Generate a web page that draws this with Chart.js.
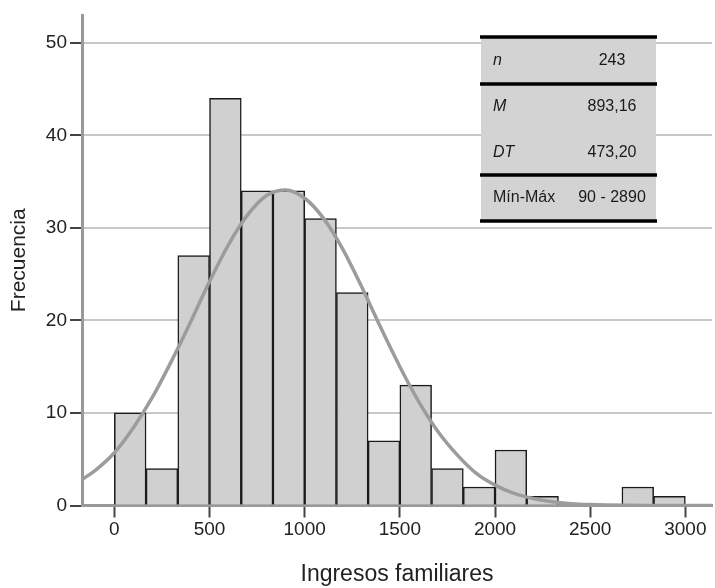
<!DOCTYPE html>
<html>
<head>
<meta charset="utf-8">
<script src="https://cdn.jsdelivr.net/npm/chart.js@4.4.1/dist/chart.umd.min.js"></script>
<style>
  html, body { margin: 0; padding: 0; background: #fff; }
  #wrap { width: 715px; height: 588px; position: relative; }
</style>
</head>
<body>
<div id="wrap"><canvas id="histChart"></canvas></div>
<script>
// histogram bins (Ingresos familiares), bin width = 3000 / 18
const binEdges = [0, 166.67, 333.33, 500, 666.67, 833.33, 1000, 1166.67, 1333.33, 1500,
  1666.67, 1833.33, 2000, 2166.67, 2333.33, 2500, 2666.67, 2833.33, 3000];
const binCounts = [10, 4, 27, 44, 34, 34, 31, 23, 7, 13, 4, 2, 6, 1, 0, 0, 2, 1];

// normal curve
const curveX = [-170, -100, 0, 100, 200, 300, 400, 500, 600, 700, 800, 900, 1000, 1100, 1200,
  1300, 1400, 1500, 1600, 1700, 1800, 1900, 2000, 2100, 2200, 2300, 2400, 2500, 2600, 2700,
  2800, 2900, 3000, 3140];
const curveY = [2.8, 3.8, 5.7, 8.4, 11.7, 15.6, 19.8, 24.2, 28.2, 31.4, 33.5, 34.1, 33.2, 31.0, 27.7,
  23.6, 19.2, 15.0, 11.2, 8.0, 5.5, 3.5, 2.2, 1.3, 0.75, 0.4, 0.2, 0.1, 0.05, 0.02,
  0.01, 0, 0, 0];

const xTicks = [0, 500, 1000, 1500, 2000, 2500, 3000];
const yTicks = [0, 10, 20, 30, 40, 50];

// summary table
const statLabels = ["n", "M", "DT", "Mín-Máx"];
const statValues = ["243", "893,16", "473,20", "90 - 2890"];
const statItalic = [true, true, true, false];

const FONT = "'Liberation Sans', Arial, sans-serif";
Chart.defaults.font.family = FONT;
Chart.defaults.color = "#222";

const barData = binCounts.map((c, i) => ({ x: (binEdges[i] + binEdges[i + 1]) / 2, y: c }));
const curveData = curveX.map((x, i) => ({ x: x, y: curveY[i] }));

// draws the stats box in the upper right
const statsTable = {
  id: "statsTable",
  afterDraw(chart) {
    const ctx = chart.ctx;
    const left = 480, right = 657;
    const rows = [37, 84, 130, 175, 221];
    ctx.save();
    ctx.fillStyle = "#d3d3d3";
    ctx.fillRect(left + 1, rows[0], right - left - 2, rows[4] - rows[0]);

    ctx.strokeStyle = "#000";
    ctx.lineWidth = 3.5;
    [0, 1, 3, 4].forEach(i => {
      ctx.beginPath();
      ctx.moveTo(left, rows[i]);
      ctx.lineTo(right, rows[i]);
      ctx.stroke();
    });

    ctx.fillStyle = "#1a1a1a";
    ctx.textBaseline = "middle";
    statLabels.forEach((lab, i) => {
      const cy = (rows[i] + rows[i + 1]) / 2;
      ctx.font = (statItalic[i] ? "italic " : "") + "16px " + FONT;
      ctx.textAlign = "left";
      ctx.fillText(lab, 493, cy);
      ctx.font = "16px " + FONT;
      ctx.textAlign = "center";
      ctx.fillText(statValues[i], 612, cy);
    });
    ctx.restore();
  }
};

new Chart(document.getElementById("histChart"), {
  type: "bar",
  data: {
    datasets: [
      {
        type: "line",
        data: curveData,
        borderColor: "#9c9c9c",
        borderWidth: 3.5,
        pointRadius: 0,
        cubicInterpolationMode: "monotone",
        fill: false,
        order: 0
      },
      {
        type: "bar",
        data: barData,
        backgroundColor: "#d0d0d0",
        borderColor: "#1a1a1a",
        borderWidth: 1.5,
        barPercentage: 1,
        categoryPercentage: 1,
        grouped: false,
        order: 1
      }
    ]
  },
  options: {
    responsive: true,
    maintainAspectRatio: false,
    animation: false,
    layout: { padding: { top: 15, right: 3, left: 0, bottom: 0 } },
    plugins: {
      legend: { display: false },
      tooltip: { enabled: false }
    },
    scales: {
      x: {
        type: "linear",
        min: -170,
        max: 3140,
        offset: false,
        afterBuildTicks: s => { s.ticks = xTicks.map(v => ({ value: v })); },
        afterFit: s => { s.height = 82.5; },
        grid: {
          offset: false,
          drawOnChartArea: false,
          tickLength: 12,
          tickWidth: 2,
          tickColor: "#444"
        },
        border: { color: "#999", width: 3 },
        ticks: {
          font: { size: 19 },
          color: "#222",
          padding: 1,
          maxRotation: 0,
          callback: v => String(v)
        },
        title: {
          display: true,
          text: "Ingresos familiares",
          font: { size: 23 },
          color: "#222",
          padding: { top: 18, bottom: 0 }
        }
      },
      y: {
        min: 0,
        max: 53,
        afterBuildTicks: s => { s.ticks = yTicks.map(v => ({ value: v })); },
        afterFit: s => { s.width = 82; },
        grid: {
          color: ctx => ctx.tick && ctx.tick.value === 0 ? "rgba(0,0,0,0)" : "#c8c8c8",
          lineWidth: 2,
          tickLength: 12,
          tickWidth: 2,
          tickColor: "#444"
        },
        border: { color: "#999", width: 3 },
        ticks: { font: { size: 19 }, color: "#222", padding: 3 },
        title: {
          display: true,
          text: "Frecuencia",
          font: { size: 21 },
          color: "#222",
          padding: { top: 7, bottom: 6 }
        }
      }
    }
  },
  plugins: [statsTable]
});
</script>
</body>
</html>
